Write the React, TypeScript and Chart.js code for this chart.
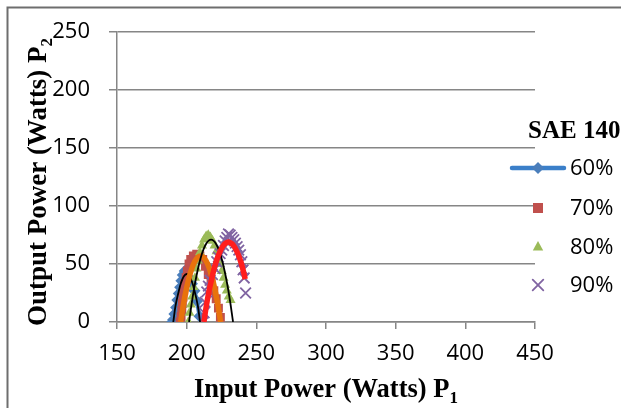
import React, { useEffect, useRef } from 'react';
import { Chart, registerables } from 'chart.js';

Chart.register(...registerables);

// ---- Data ----
const xTicks = [150, 200, 250, 300, 350, 400, 450];
const yTicks = [0, 50, 100, 150, 200, 250];

const seriesLabels = ['60%', '70%', '80%', '90%'];
const legendTitle = 'SAE 140';
const xTitle = 'Input Power (Watts) P';
const xTitleSub = '1';
const yTitle = 'Output Power (Watts) P';
const yTitleSub = '2';

// 60%
const p60X = [189.5, 190.3, 191.2, 192.4, 193.3, 194.3, 195.3, 196.2, 197.2, 198.6, 200.2, 202.0, 203.8, 205.6, 207.4, 209.2];
const p60Y = [0, 2, 7, 12.5, 19, 24.5, 30, 35.5, 40.5, 44, 42, 38, 33, 27, 18, 5];
// 70%
const p70X = [195.3, 196.0, 196.5, 196.9, 197.4, 197.9, 198.6, 199.6, 200.5, 201.7, 202.9, 204.8, 207.2, 209.5, 211.5, 213.5, 215.5, 217.5, 219.5, 221.2, 222.8, 224.2];
const p70Y = [0, 4.5, 10, 16, 21.5, 27, 33, 38.5, 44, 50, 54, 57, 58.4, 57, 54, 48, 41, 34, 27, 20, 12, 4];
// 80%
const p80X = [201.2, 202.0, 203.0, 204.0, 205.0, 206.0, 207.0, 208.0, 209.5, 211.0, 212.5, 214.0, 215.5, 217.0, 218.5, 220.0, 221.5, 222.8, 224.0, 225.2, 226.5, 227.6, 228.8, 230.2, 231.5];
const p80Y = [0, 8, 15, 22, 30, 38, 46, 53, 60, 66, 71, 74, 75, 73, 70, 66, 61, 55, 50, 44, 38, 32, 27, 22, 19];
// 90%
const p90X = [212.0, 212.5, 213.2, 214.4, 215.6, 216.8, 218.5, 220.4, 221.6, 222.8, 224.0, 225.2, 226.4, 227.6, 228.8, 230.0, 231.2, 232.5, 233.8, 235.0, 236.2, 237.4, 238.6, 239.6, 240.5, 241.3, 242.3];
const p90Y = [0, 8, 17, 26, 31, 36, 41, 46, 52, 56, 59, 62, 66, 70, 73, 76, 75, 73, 71, 68, 65, 62, 58, 52, 45, 38, 25];

// Trendlines
const t60X = [190.4, 192, 194, 196, 198, 200, 202, 204, 206, 208, 209.6];
const t60Y = [0, 14, 25, 34, 39.5, 41.4, 39.5, 34, 25, 14, 0];
const t70X = [195.6, 198, 200, 202, 204, 206, 208, 210, 212, 214, 216, 218, 220, 222, 224.4];
const t70Y = [0, 17.4, 29.5, 39.4, 47.1, 52.6, 55.9, 57, 55.9, 52.6, 47.1, 39.4, 29.5, 17.4, 0];
const t80X = [201.7, 204, 206, 208, 210, 212, 214, 216, 217.5, 219, 221, 223, 225, 227, 229, 231, 233.3];
const t80Y = [0, 19.2, 33.4, 45.3, 55, 62.4, 67.5, 70.4, 71, 70.4, 67.5, 62.4, 55, 45.3, 33.4, 19.2, 0];
const t90X = [212.4, 214, 216, 218, 220, 222, 224, 226, 228, 230, 232, 234, 236, 238, 240, 242];
const t90Y = [0, 13, 26.5, 37.5, 47.3, 55, 61, 65.4, 68, 69, 68, 65.4, 61, 55, 47.3, 37];

const colors = {
  blueLine: '#3B7FC9',
  blueMarker: '#4A7EBB',
  red: '#C0504D',
  green: '#9BBB59',
  purple: '#8064A2',
  orange: '#E8720C',
  redTrend: '#FF1E1E',
  black: '#000000',
  grid: '#868686',
};

const pts = (xs: number[], ys: number[]) => xs.map((x, i) => ({ x, y: ys[i] }));

const FONT_SANS = '"Open Sans", "Noto Sans", sans-serif';
const FONT_SERIF = '"Liberation Serif", "DejaVu Serif", serif';

function drawMarker(ctx: CanvasRenderingContext2D, kind: string, x: number, y: number, color: string) {
  ctx.save();
  ctx.fillStyle = color;
  ctx.strokeStyle = color;
  ctx.beginPath();
  if (kind === 'diamond') {
    const r = 6;
    ctx.moveTo(x, y - r); ctx.lineTo(x + r, y); ctx.lineTo(x, y + r); ctx.lineTo(x - r, y); ctx.closePath(); ctx.fill();
  } else if (kind === 'square') {
    ctx.rect(x - 5, y - 5, 10, 10); ctx.fill();
  } else if (kind === 'triangle') {
    ctx.moveTo(x, y - 6); ctx.lineTo(x + 5.2, y + 3.5); ctx.lineTo(x - 5.2, y + 3.5); ctx.closePath(); ctx.fill();
  } else {
    ctx.lineWidth = 1.8;
    const r = 5.3;
    ctx.moveTo(x - r, y - r); ctx.lineTo(x + r, y + r); ctx.moveTo(x + r, y - r); ctx.lineTo(x - r, y + r); ctx.stroke();
  }
  ctx.restore();
}

const decorPlugin = {
  id: 'decor',
  afterDraw(chart: any) {
    const ctx: CanvasRenderingContext2D = chart.ctx;
    ctx.save();
    // frame (left + top)
    ctx.strokeStyle = '#6e6e6e';
    ctx.lineWidth = 2;
    ctx.beginPath();
    ctx.moveTo(7.5, 408);
    ctx.lineTo(7.5, 7.5);
    ctx.lineTo(621, 7.5);
    ctx.stroke();

    ctx.fillStyle = '#000';
    ctx.textBaseline = 'alphabetic';
    ctx.textAlign = 'left';
    // x title
    const xFont = `bold 26.5px ${FONT_SERIF}`;
    const xSubFont = `bold 17px ${FONT_SERIF}`;
    ctx.font = xFont;
    const wx = ctx.measureText(xTitle).width;
    ctx.font = xSubFont;
    const wxs = ctx.measureText(xTitleSub).width;
    const ca = chart.chartArea;
    const cx = (ca.left + ca.right) / 2;
    const sx = cx - (wx + wxs) / 2;
    ctx.font = xFont;
    ctx.fillText(xTitle, sx, 397);
    ctx.font = xSubFont;
    ctx.fillText(xTitleSub, sx + wx, 403);

    // y title
    const yFont = `bold 27px ${FONT_SERIF}`;
    const ySubFont = `bold 17px ${FONT_SERIF}`;
    ctx.save();
    ctx.translate(46, 182);
    ctx.rotate(-Math.PI / 2);
    ctx.font = yFont;
    const wy = ctx.measureText(yTitle).width;
    ctx.font = ySubFont;
    const wys = ctx.measureText(yTitleSub).width;
    const sy = -(wy + wys) / 2;
    ctx.font = yFont;
    ctx.fillText(yTitle, sy, 0);
    ctx.font = ySubFont;
    ctx.fillText(yTitleSub, sy + wy, 6);
    ctx.restore();

    // legend
    ctx.font = `bold 25px ${FONT_SERIF}`;
    ctx.fillText(legendTitle, 528, 138);
    const rows = [168, 208, 247, 285];
    const kinds = ['diamond', 'square', 'triangle', 'cross'];
    const mcols = [colors.blueMarker, colors.red, colors.green, colors.purple];
    ctx.strokeStyle = colors.blueLine;
    ctx.lineWidth = 4.5;
    ctx.lineCap = 'round';
    ctx.beginPath();
    ctx.moveTo(512, rows[0]);
    ctx.lineTo(564, rows[0]);
    ctx.stroke();
    ctx.font = `22px ${FONT_SANS}`;
    ctx.textBaseline = 'middle';
    rows.forEach((ry, i) => {
      drawMarker(ctx, kinds[i], 538, ry, mcols[i]);
      ctx.fillStyle = '#000';
      ctx.fillText(seriesLabels[i], 570, ry + 1);
    });
    ctx.restore();
  },
};

export default function App() {
  const ref = useRef<HTMLCanvasElement | null>(null);
  useEffect(() => {
    const canvas = ref.current;
    if (!canvas) return;
    const trend = (xs: number[], ys: number[], color: string, width: number, order: number) => ({
      label: 'trend',
      data: pts(xs, ys),
      showLine: true,
      borderColor: color,
      backgroundColor: color,
      borderWidth: width,
      pointRadius: 0,
      tension: 0.4,
      borderCapStyle: 'butt',
      order,
    });
    const chart = new Chart(canvas, {
      type: 'scatter',
      data: {
        datasets: [
          trend(t90X, t90Y, colors.redTrend, 5.5, 1),
          trend(t80X, t80Y, colors.black, 1.8, 2),
          trend(t70X, t70Y, colors.orange, 5.5, 3),
          trend(t60X, t60Y, colors.black, 1.8, 4),
          {
            label: seriesLabels[3], data: pts(p90X, p90Y), showLine: false,
            pointStyle: 'crossRot', pointRadius: 7.5, borderWidth: 1.8,
            pointBorderColor: colors.purple, borderColor: colors.purple, pointBackgroundColor: colors.purple, order: 5,
          },
          {
            label: seriesLabels[2], data: pts(p80X, p80Y), showLine: false,
            pointStyle: 'triangle', pointRadius: 5.8, borderWidth: 0,
            pointBorderColor: colors.green, pointBackgroundColor: colors.green, order: 6,
          },
          {
            label: seriesLabels[1], data: pts(p70X, p70Y), showLine: false,
            pointStyle: 'rect', pointRadius: 6.3, borderWidth: 0,
            pointBorderColor: colors.red, pointBackgroundColor: colors.red, order: 7,
          },
          {
            label: seriesLabels[0], data: pts(p60X, p60Y), showLine: true,
            borderColor: colors.blueLine, borderWidth: 4, tension: 0,
            pointStyle: 'rectRot', pointRadius: 6, pointBorderWidth: 0,
            pointBorderColor: colors.blueMarker, pointBackgroundColor: colors.blueMarker, order: 8,
          },
        ] as any,
      },
      options: {
        animation: false,
        responsive: false,
        devicePixelRatio: 1,
        layout: { padding: { top: 28, right: 86, left: 0, bottom: 0 } },
        plugins: { legend: { display: false }, tooltip: { enabled: false }, title: { display: false } },
        scales: {
          x: {
            type: 'linear', min: 150, max: 450,
            afterBuildTicks: (s: any) => { s.ticks = xTicks.map((v) => ({ value: v })); },
            ticks: { padding: 12, color: '#000', font: { family: FONT_SANS, size: 22 }, maxRotation: 0 },
            grid: { drawOnChartArea: false, drawTicks: true, tickLength: 7, color: colors.grid, lineWidth: 1.5 },
            border: { color: colors.grid, width: 1.5 },
            afterFit: (s: any) => { s.height = 86; },
          },
          y: {
            type: 'linear', min: 0, max: 250,
            afterBuildTicks: (s: any) => { s.ticks = yTicks.map((v) => ({ value: v })); },
            ticks: { padding: 19, color: '#000', font: { family: FONT_SANS, size: 22 } },
            grid: { drawTicks: true, tickLength: 8, color: colors.grid, lineWidth: 1.5 },
            border: { color: colors.grid, width: 1.5 },
            afterFit: (s: any) => { s.width = 117; },
          },
        },
      } as any,
      plugins: [decorPlugin],
    });
    return () => chart.destroy();
  }, []);
  return (
    <div style={{ position: 'absolute', left: 0, top: 0, width: 621, height: 408, background: '#fff' }}>
      <canvas ref={ref} width={621} height={408} style={{ display: 'block' }} />
    </div>
  );
}
